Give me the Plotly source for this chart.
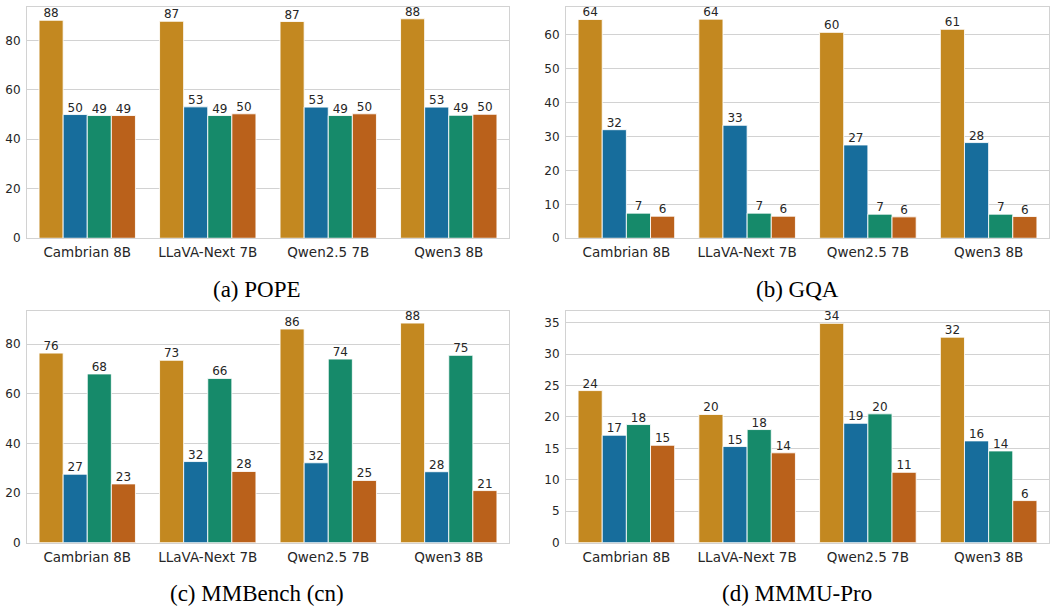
import plotly.graph_objects as go

# ---------------- data ----------------
models = ["Cambrian 8B", "LLaVA-Next 7B", "Qwen2.5 7B", "Qwen3 8B"]
series_names = ["Series 1", "Series 2", "Series 3", "Series 4"]
panel_titles = ["(a) POPE", "(b) GQA", "(c) MMBench (cn)", "(d) MMMU-Pro"]

pope_s1 = [88.1, 87.7, 87.6, 88.7]
pope_s2 = [50.0, 53.1, 53.0, 53.0]
pope_s3 = [49.6, 49.6, 49.6, 49.7]
pope_s4 = [49.6, 50.3, 50.3, 50.1]

gqa_s1 = [64.5, 64.6, 60.7, 61.6]
gqa_s2 = [32.0, 33.3, 27.5, 28.2]
gqa_s3 = [7.4, 7.4, 7.1, 7.1]
gqa_s4 = [6.5, 6.5, 6.3, 6.4]

mmb_s1 = [76.4, 73.5, 86.1, 88.5]
mmb_s2 = [27.6, 32.7, 32.2, 28.6]
mmb_s3 = [68.0, 66.2, 74.0, 75.5]
mmb_s4 = [23.7, 28.7, 25.1, 21.0]

mmmu_s1 = [24.2, 20.4, 34.9, 32.7]
mmmu_s2 = [17.1, 15.3, 19.0, 16.2]
mmmu_s3 = [18.8, 18.0, 20.5, 14.6]
mmmu_s4 = [15.5, 14.3, 11.2, 6.7]

pope_ticks = [0, 20, 40, 60, 80]
gqa_ticks = [0, 10, 20, 30, 40, 50, 60]
mmb_ticks = [0, 20, 40, 60, 80]
mmmu_ticks = [0, 5, 10, 15, 20, 25, 30, 35]

# ---------------- style ----------------
colors = ["#c38820", "#176d9c", "#168a6a", "#ba611b"]
W, H = 1053, 611
TXT = "#262626"
GRID = "#d2d2d2"

panels = [
    ([pope_s1, pope_s2, pope_s3, pope_s4], pope_ticks, 93.5, (27, 509), (7, 241)),
    ([gqa_s1, gqa_s2, gqa_s3, gqa_s4], gqa_ticks, 68.2, (566, 1049), (7, 241)),
    ([mmb_s1, mmb_s2, mmb_s3, mmb_s4], mmb_ticks, 93.2, (27, 509), (315, 549)),
    ([mmmu_s1, mmmu_s2, mmmu_s3, mmmu_s4], mmmu_ticks, 36.8, (566, 1049), (315, 549)),
]
caption_pos = [(257, 293), (797, 293), (257, 600), (797, 600)]

fig = go.Figure()
layout = dict(
    width=W, height=H,
    margin=dict(l=0, r=0, t=0, b=0),
    paper_bgcolor="white", plot_bgcolor="white",
    showlegend=False,
    barmode="group", bargap=0.2, bargroupgap=0.0,
    scattermode="group", scattergap=0.2,
    font=dict(family="DejaVu Sans", color=TXT),
    annotations=[],
)

for i, (series, ticks, ymax, (x0, x1), (y0, y1)) in enumerate(panels):
    n = "" if i == 0 else str(i + 1)
    for j, vals in enumerate(series):
        fig.add_trace(go.Bar(
            x=models, y=vals, name=series_names[j],
            marker=dict(color=colors[j], line=dict(color="rgba(255,255,255,0.85)", width=1)),
            offsetgroup=str(j), alignmentgroup="g" + n,
            xaxis="x" + n, yaxis="y" + n,
            hoverinfo="x+y",
        ))
    for j, vals in enumerate(series):
        fig.add_trace(go.Scatter(
            x=models, y=vals, mode="text", name=series_names[j],
            text=[str(int(v)) for v in vals],
            textposition="top center",
            textfont=dict(family="DejaVu Sans", size=12, color=TXT),
            offsetgroup=str(j), alignmentgroup="g" + n,
            cliponaxis=False,
            xaxis="x" + n, yaxis="y" + n,
            hoverinfo="skip",
        ))
    layout["xaxis" + n] = dict(
        domain=[x0 / W, x1 / W], anchor="y" + n,
        range=[-0.5, 3.5], showgrid=False,
        showline=True, mirror=True, linecolor=GRID, linewidth=1,
        ticks="outside", ticklen=2, tickcolor="rgba(0,0,0,0)",
        tickfont=dict(family="DejaVu Sans", size=13.5, color=TXT),
        fixedrange=True,
    )
    layout["yaxis" + n] = dict(
        domain=[1 - y1 / H, 1 - y0 / H], anchor="x" + n,
        range=[0, ymax], tickvals=ticks,
        showgrid=True, gridcolor=GRID, gridwidth=1,
        zeroline=False,
        showline=True, mirror=True, linecolor=GRID, linewidth=1,
        ticks="outside", ticklen=3, tickcolor="rgba(0,0,0,0)",
        tickfont=dict(family="DejaVu Sans", size=12, color=TXT),
        fixedrange=True,
    )
    cx, cy = caption_pos[i]
    layout["annotations"].append(dict(
        text=panel_titles[i], x=cx / W, y=1 - cy / H,
        xref="paper", yref="paper", xanchor="center", yanchor="middle",
        showarrow=False,
        font=dict(family="Liberation Serif", size=23, color="black"),
    ))

fig.update_layout(**layout)
fig.write_html("out.html")
